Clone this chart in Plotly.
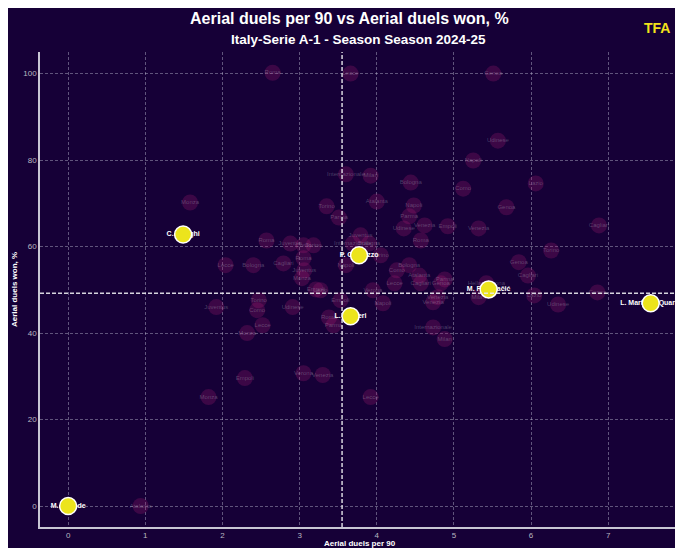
import plotly.graph_objects as go

# ---------------- data ----------------
bg_x = [2.65, 3.66, 5.51, 5.57, 5.25, 3.60, 3.92, 4.44, 5.12, 6.06, 5.68, 3.35, 3.51, 4.00, 4.48,
        4.42, 4.62, 4.92, 5.32, 4.35, 1.58, 2.57, 2.04, 2.88, 3.05, 3.18, 2.79, 3.05, 3.06, 3.03,
        3.21, 3.27, 3.69, 3.90, 4.05, 3.60, 4.26, 4.42, 4.55, 4.57, 4.83, 4.88, 4.23, 3.95, 5.42,
        5.96, 6.26, 6.88, 5.84, 6.04, 6.35, 6.86, 5.32, 4.79, 4.73, 3.53, 3.38, 3.44, 2.45, 2.52,
        2.32, 1.92, 2.47, 2.91, 4.08, 4.73, 4.88, 2.29, 3.05, 3.30, 1.82, 3.92, 0.94, 2.40, 3.79,
        4.57]
bg_y = [100.2, 100.0, 100.0, 84.5, 79.9, 76.7, 76.4, 74.8, 73.4, 74.6, 69.1, 69.3, 66.7, 70.4, 69.5,
        67.0, 64.9, 64.7, 64.2, 64.2, 70.2, 61.4, 55.7, 60.7, 60.3, 60.3, 56.1, 57.3, 54.5, 52.7,
        50.1, 49.9, 60.7, 60.7, 58.0, 55.7, 54.5, 55.7, 53.3, 51.5, 51.5, 52.4, 51.5, 49.9, 51.5,
        53.3, 59.1, 64.9, 56.4, 48.7, 46.6, 49.4, 48.3, 48.3, 47.1, 47.6, 43.6, 41.8, 45.3, 41.8,
        40.0, 46.0, 47.6, 46.0, 46.9, 41.3, 38.6, 29.6, 30.7, 30.3, 25.2, 25.2, 0.0, 55.7, 62.6,
        61.4]
bg_team = ["Roma", "Lecce", "Genoa", "Udinese", "Napoli", "Internazionale", "Milan", "Bologna", "Como",
           "Lazio", "Genoa", "Torino", "Parma", "Atalanta", "Napoli", "Parma", "Venezia", "Empoli",
           "Venezia", "Udinese", "Monza", "Roma", "Lecce", "Juventus", "Como", "Torino", "Cagliari",
           "Roma", "Juventus", "Monza", "Empoli", "Lazio", "Internazionale", "Bologna", "Torino",
           "Napoli", "Como", "Bologna", "Atalanta", "Cagliari", "Genoa", "Parma", "Lecce", "Verona",
           "Hellas Verona", "Cagliari", "Torino", "Cagliari", "Genoa", "Lazio", "Udinese", "Genoa",
           "Milan", "Venezia", "Venezia", "Empoli", "Roma", "Parma", "Como", "Lecce", "Monza",
           "Juventus", "Torino", "Udinese", "Napoli", "Internazionale", "Milan", "Empoli", "Verona",
           "Venezia", "Monza", "Lecce", "Atalanta", "Bologna", "Juventus", "Roma"]

hl_names = ["C. Biraghi", "P. Comuzzo", "L. Ranieri", "M. Pongračić", "L. Martinez Quarta", "M. Kayode"]
hl_x = [1.49, 3.77, 3.66, 5.45, 7.55, 0.0]
hl_y = [62.8, 58.0, 43.9, 50.1, 46.9, 0.0]

mean_x = 3.55
mean_y = 49.2

x_ticks = [0, 1, 2, 3, 4, 5, 6, 7]
y_ticks = [0, 20, 40, 60, 80, 100]

title_text = "Aerial duels per 90 vs Aerial duels won, %"
subtitle_text = "Italy-Serie A-1 - Season Season 2024-25"
x_title = "Aerial duels per 90"
y_title = "Aerial duels won, %"

# ---------------- style ----------------
BG = "#160037"
OFF = 8  # page body margin
W, H = 683 - OFF, 548 - OFF
L, R, T, B = 40 - OFF, 3, 52 - OFF, 21
pw, ph = W - L - R, H - T - B


def px_x(p):  # page pixel -> paper coord
    return (p - OFF - L) / pw


def px_y(p):
    return 1 - (p - OFF - T) / ph


fig = go.Figure()

# background players
fig.add_trace(go.Scatter(
    x=bg_x, y=bg_y, mode="markers+text", text=bg_team, textposition="middle center",
    textfont=dict(size=6, color="rgba(180,180,195,0.35)", family="Liberation Sans"),
    marker=dict(size=16, color="rgba(160,25,110,0.28)", line=dict(width=0)),
    hoverinfo="skip", showlegend=False, cliponaxis=True))

# highlighted: labels under markers
fig.add_trace(go.Scatter(
    x=hl_x, y=hl_y, mode="text", text=hl_names, textposition="middle center",
    textfont=dict(size=7, color="white", family="Liberation Sans", weight="bold"),
    hoverinfo="skip", showlegend=False, cliponaxis=False))
fig.add_trace(go.Scatter(
    x=hl_x, y=hl_y, mode="markers",
    marker=dict(size=17, color="#ece41c", line=dict(width=1.5, color="white")),
    hoverinfo="skip", showlegend=False, cliponaxis=False))

# mean lines
fig.add_vline(x=mean_x, line=dict(color="rgba(235,235,240,0.9)", width=1.5, dash="4px,2px"))
fig.add_hline(y=mean_y, line=dict(color="rgba(235,235,240,0.9)", width=1.5, dash="4px,2px"))

axis_common = dict(
    showgrid=True, gridcolor="rgba(200,200,220,0.42)", gridwidth=1, griddash="3px,2px",
    zeroline=False, showline=True, linecolor="rgba(220,220,230,0.9)", linewidth=1.5,
    tickfont=dict(size=8, color="#b8b8c0", family="Liberation Sans"),
    ticks="", showticklabels=True, automargin=False)

fig.update_xaxes(range=[-0.365, 7.93], tickvals=x_ticks, **axis_common)
fig.update_yaxes(range=[-4.85, 105], tickvals=y_ticks, **axis_common)

ann_font = dict(color="white", family="Liberation Sans", weight="bold")
fig.add_annotation(text=x_title, xref="paper", yref="paper", x=px_x(360), y=px_y(543),
                   showarrow=False, xanchor="center", yanchor="middle", font=dict(size=8, **ann_font))
fig.add_annotation(text=y_title, xref="paper", yref="paper", x=px_x(14), y=px_y(290),
                   showarrow=False, xanchor="center", yanchor="middle", textangle=-90,
                   font=dict(size=8, **ann_font))
fig.add_annotation(text=title_text, xref="paper", yref="paper", x=px_x(349), y=px_y(18),
                   showarrow=False, xanchor="center", yanchor="middle", font=dict(size=16, **ann_font))
fig.add_annotation(text=subtitle_text, xref="paper", yref="paper", x=px_x(358), y=px_y(40),
                   showarrow=False, xanchor="center", yanchor="middle", font=dict(size=13.5, **ann_font))
fig.add_annotation(text="TFA", xref="paper", yref="paper", x=px_x(657), y=px_y(28),
                   showarrow=False, xanchor="center", yanchor="middle",
                   font=dict(size=14, color="#f2e21a", family="Liberation Sans", weight="bold"))

fig.update_layout(
    width=W, height=H, margin=dict(l=L, r=R, t=T, b=B, pad=0, autoexpand=False),
    paper_bgcolor=BG, plot_bgcolor=BG, showlegend=False)

fig.write_html("out.html")
